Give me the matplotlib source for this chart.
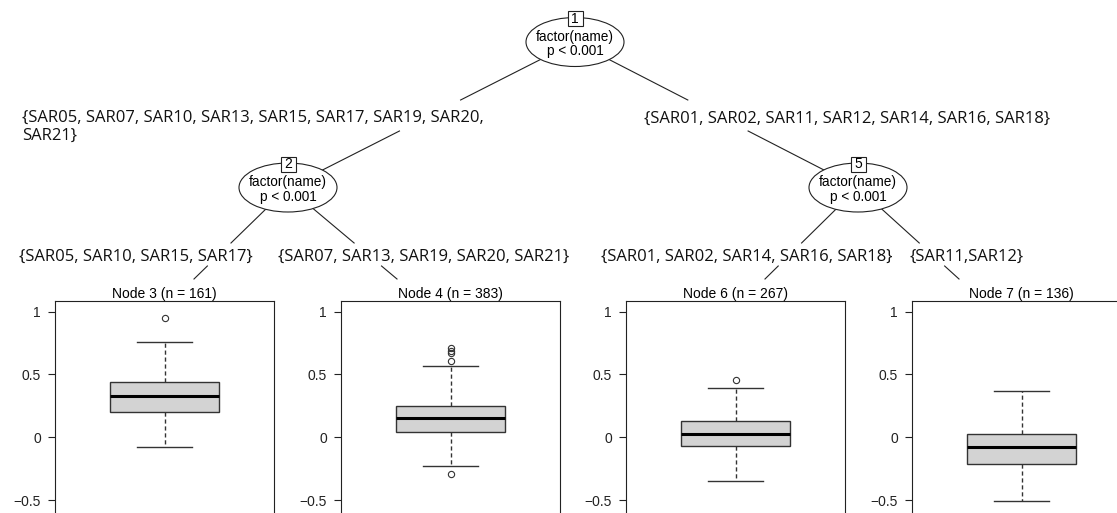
import matplotlib
matplotlib.use("Agg")
import matplotlib.pyplot as plt
from matplotlib.patches import Ellipse, Rectangle

# ---- tree content -------------------------------------------------------
inner_ids = [1, 2, 5]
inner_var = "factor(name)"
inner_p = "p < 0.001"

terminal_ids = [3, 4, 6, 7]
terminal_n = [161, 383, 267, 136]

# box statistics of the response in each terminal node
q1 = [0.203, 0.040, -0.066, -0.210]
medians = [0.332, 0.154, 0.027, -0.080]
q3 = [0.438, 0.252, 0.130, 0.027]
whisker_lo = [-0.080, -0.225, -0.350, -0.504]
whisker_hi = [0.755, 0.570, 0.390, 0.369]
outliers = [[0.946], [-0.294, 0.610, 0.674, 0.690, 0.708], [0.456], []]

ytick_values = [-0.5, 0, 0.5, 1]
ytick_labels = ["\u22120.5", "0", "0.5", "1"]

split_labels = {
    (1, 2): "{SAR05, SAR07, SAR10, SAR13, SAR15, SAR17, SAR19, SAR20,\nSAR21}",
    (1, 5): "{SAR01, SAR02, SAR11, SAR12, SAR14, SAR16, SAR18}",
    (2, 3): "{SAR05, SAR10, SAR15, SAR17}",
    (2, 4): "{SAR07, SAR13, SAR19, SAR20, SAR21}",
    (5, 6): "{SAR01, SAR02, SAR14, SAR16, SAR18}",
    (5, 7): "{SAR11,SAR12}",
}

# ---- layout (pixels) -----------------------------------------------------
W, H = 1117, 513
plt.rcParams["font.family"] = ["Liberation Sans", "DejaVu Sans"]

inner_pos = {1: (575, 42), 2: (288, 187.5), 5: (858, 187.5)}
edge_end = {3: (194, 279), 4: (397, 279), 6: (765, 279), 7: (959, 279)}
edge_gap = {(1, 2): (100, 131), (1, 5): (100, 131),
            (2, 3): (243, 266), (2, 4): (243, 266),
            (5, 6): (243, 266), (5, 7): (243, 266)}
label_pos = {(1, 2): (22, 127, "left"), (1, 5): (847, 119, "center"),
             (2, 3): (136, 257, "center"), (2, 4): (424, 257, "center"),
             (5, 6): (747, 257, "center"), (5, 7): (967, 257, "center")}

panel_left = [55, 341, 626, 912]
panel_width = 219
panel_top, panel_bottom = 301, 580
y_zero_px, px_per_unit = 437.3, 125.6

fig = plt.figure(figsize=(W / 100, H / 100), dpi=100)
fig.patch.set_facecolor("white")

ax0 = fig.add_axes([0, 0, 1, 1])
ax0.set_xlim(0, W)
ax0.set_ylim(H, 0)
ax0.axis("off")

def xy(pid):
    return inner_pos[pid] if pid in inner_pos else edge_end[pid]

# edges, broken where the split label sits
for (p, c), (g0, g1) in edge_gap.items():
    (px, py), (cx, cy) = xy(p), xy(c)
    fx = lambda y: px + (cx - px) * (y - py) / (cy - py)
    ax0.plot([px, fx(g0)], [py, g0], color="#222222", lw=0.8, zorder=1)
    ax0.plot([fx(g1), cx], [g1, cy], color="#222222", lw=0.8, zorder=1)

for key, text in split_labels.items():
    lx, ly, ha = label_pos[key]
    ax0.text(lx, ly, text, ha=ha, va="center", fontsize=12,
             family="Open Sans", color="#111111", linespacing=1.15, zorder=3)

# inner nodes: ellipse, id box, variable and p-value
for nid in inner_ids:
    cx, cy = inner_pos[nid]
    ax0.add_patch(Ellipse((cx, cy), 98, 49, facecolor="white",
                          edgecolor="#222222", lw=0.8, zorder=2))
    ax0.add_patch(Rectangle((cx - 7.5, cy - 31), 15, 15, facecolor="white",
                            edgecolor="#222222", lw=0.8, zorder=3))
    ax0.text(cx, cy - 23.3, str(nid), ha="center", va="center",
             fontsize=10, zorder=4)
    ax0.text(cx, cy - 5.5, inner_var, ha="center", va="center",
             fontsize=9.8, zorder=4)
    ax0.text(cx, cy + 9.5, inner_p, ha="center", va="center",
             fontsize=9.8, zorder=4)

# terminal nodes: boxplots
ylim_top = (y_zero_px - panel_top) / px_per_unit
ylim_bot = (y_zero_px - panel_bottom) / px_per_unit
for i, left in enumerate(panel_left):
    ax = fig.add_axes([left / W, 1 - panel_bottom / H,
                       panel_width / W, (panel_bottom - panel_top) / H])
    stats = [dict(med=medians[i], q1=q1[i], q3=q3[i],
                  whislo=whisker_lo[i], whishi=whisker_hi[i],
                  fliers=outliers[i])]
    ax.bxp(stats, positions=[0.5], widths=0.5, capwidths=0.25,
           patch_artist=True, showfliers=True,
           boxprops=dict(facecolor="#d3d3d3", edgecolor="#333333", lw=1),
           medianprops=dict(color="black", lw=2.2),
           whiskerprops=dict(color="#333333", lw=1, linestyle=(0, (3, 2))),
           capprops=dict(color="#333333", lw=1),
           flierprops=dict(marker="o", markerfacecolor="none",
                           markeredgecolor="#333333", markersize=4.5,
                           markeredgewidth=0.8))
    ax.set_xlim(0, 1)
    ax.set_ylim(ylim_bot, ylim_top)
    ax.set_xticks([])
    ax.set_yticks(ytick_values)
    ax.set_yticklabels(ytick_labels)
    ax.tick_params(axis="y", direction="out", length=5, width=0.8,
                   pad=5, labelsize=10, colors="#222222")
    for s in ax.spines.values():
        s.set_linewidth(0.8)
        s.set_color("#222222")
    ax.set_title(f"Node {terminal_ids[i]} (n = {terminal_n[i]})",
                 fontsize=10, pad=2)

fig.savefig("out.png", dpi=100)
